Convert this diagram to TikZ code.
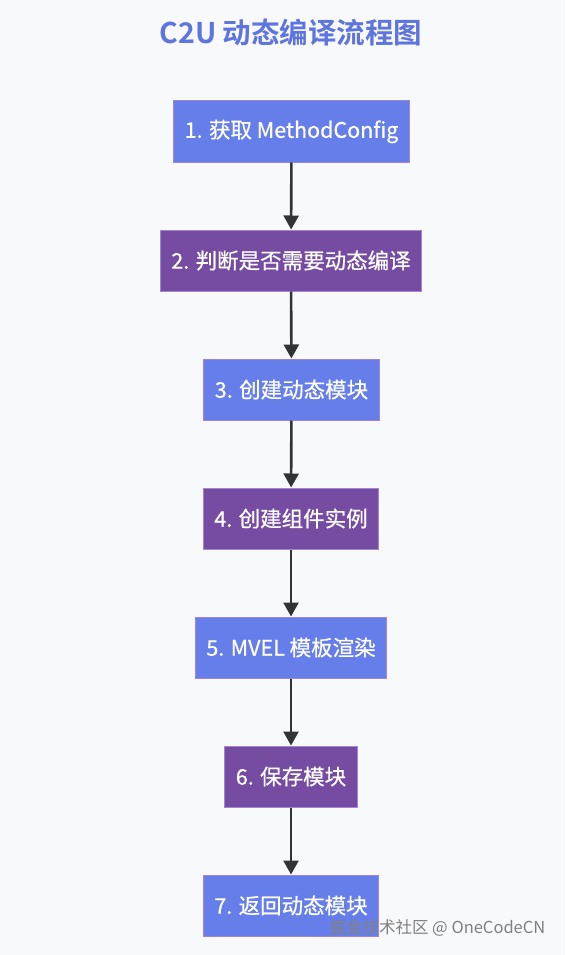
\documentclass[tikz,border=0pt]{standalone}
\usepackage{fontspec}
\setmainfont{Noto Sans CJK SC}[BoldFont={Noto Sans CJK SC Bold}]
\newfontfamily\boxfont{Noto Sans CJK SC}[FakeBold=0.6]
\usetikzlibrary{arrows.meta}

\definecolor{bluebox}{HTML}{667EEA}
\definecolor{purplebox}{HTML}{764BA2}
\definecolor{boxline}{HTML}{A283D8}
\definecolor{bgcol}{HTML}{F8F9FB}
\definecolor{titlecol}{HTML}{5E74DE}
\definecolor{flowline}{HTML}{333333}

\tikzset{
  stepbox/.style={draw=boxline, line width=1pt, text=white, minimum height=61pt,
    inner xsep=11pt, font=\boxfont\fontsize{21.5}{24}\selectfont},
  bluestep/.style={stepbox, fill=bluebox},
  purplestep/.style={stepbox, fill=purplebox},
  flow/.style={draw=flowline, line width=2.6pt, -{Triangle[width=15pt,length=14pt]}}
}

\begin{document}
\begin{tikzpicture}[x=1pt,y=-1pt]
                \fill[bgcol] (0,0) rectangle (565,955);

                % Title
                \node[font=\bfseries\fontsize{28.5}{32}\selectfont, text=titlecol] (title) at (291,32.5) {C2U 动态编译流程图};

                % Nodes
                \node[bluestep] (s1) at (291.5,131.5) {1. 获取 MethodConfig};
                \node[purplestep] (s2) at (291,260.5) {2. 判断是否需要动态编译};
                \node[bluestep] (s3) at (291.5,389.5) {3. 创建动态模块};
                \node[purplestep] (s4) at (291,518.5) {4. 创建组件实例};
                \node[bluestep] (s5) at (291,647.5) {5. MVEL 模板渲染};
                \node[purplestep] (s6) at (291,776.5) {6. 保存模块};
                \node[bluestep] (s7) at (291,905.5) {7. 返回动态模块};

                % Edges
                \draw[flow] (s1)--(s2);
                \draw[flow] (s2)--(s3);
                \draw[flow] (s3)--(s4);
                \draw[flow] (s4)--(s5);
                \draw[flow] (s5)--(s6);
                \draw[flow] (s6)--(s7);

                % Watermark
                \node[anchor=west, text=black!50, font=\fontsize{16.5}{18}\selectfont] (mark) at (326,928) {掘金技术社区 @ OneCodeCN};
            \end{tikzpicture}
\end{document}
